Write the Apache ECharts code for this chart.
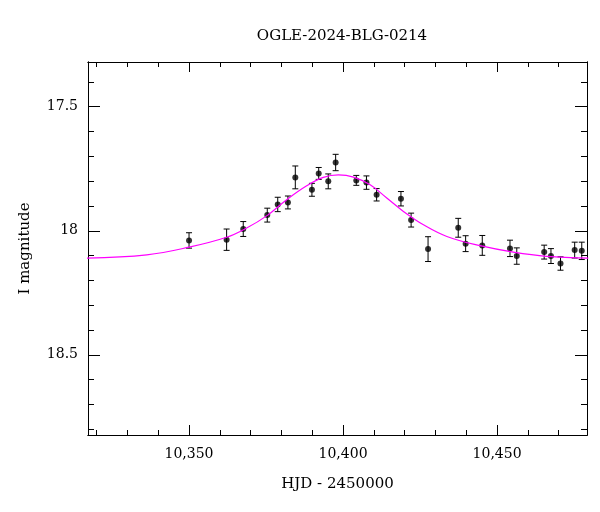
<!DOCTYPE html>
<html>
<head>
<meta charset="utf-8">
<script src="https://cdn.jsdelivr.net/npm/echarts@6/dist/echarts.min.js"></script>
<style>
   html, body { margin: 0; padding: 0; background: #fff; }
   #chart { width: 600px; height: 512px; }
</style>
</head>
<body>
<div id="chart"></div>
<script>

// observations: HJD-2450000, I mag, error
const obsT = [10350.0, 10362.2, 10367.6, 10375.4, 10378.8, 10382.1, 10384.5, 10389.9, 10392.1,
   10395.2, 10397.6, 10404.3, 10407.6, 10410.9, 10418.8, 10422.1, 10427.6, 10437.4, 10439.8,
   10445.2, 10454.2, 10456.4, 10465.3, 10467.5, 10470.6, 10475.2, 10477.5];
const obsMag = [18.039, 18.036, 17.993, 17.937, 17.894, 17.886, 17.785, 17.835, 17.769,
   17.801, 17.725, 17.797, 17.806, 17.855, 17.871, 17.957, 18.074, 17.988, 18.052,
   18.059, 18.071, 18.102, 18.086, 18.102, 18.132, 18.078, 18.081];
const obsErr = [0.031, 0.043, 0.030, 0.028, 0.029, 0.026, 0.046, 0.026, 0.024,
   0.030, 0.033, 0.020, 0.027, 0.025, 0.029, 0.028, 0.050, 0.038, 0.032,
   0.040, 0.033, 0.033, 0.028, 0.030, 0.027, 0.032, 0.035];

// model curve
const modelT = [10316.8, 10336.3, 10350.0, 10362.2, 10368.7, 10375.2, 10381.7, 10388.2, 10393.6,
   10398.5, 10403.4, 10408.8, 10414.2, 10419.6, 10426.1, 10433.7, 10444.5, 10455.3, 10466.1, 10479.6];
const modelMag = [18.110, 18.097, 18.066, 18.026, 17.989, 17.940, 17.875, 17.819, 17.785,
   17.775, 17.784, 17.815, 17.868, 17.922, 17.976, 18.023, 18.060, 18.086, 18.103, 18.110];

const xMinor = [10320, 10330, 10340, 10360, 10370, 10380, 10390, 10410, 10420, 10430, 10440, 10460, 10470];
const xMajor = [10350, 10400, 10450];
const yMinor = [17.4, 17.6, 17.7, 17.8, 17.9, 18.1, 18.2, 18.3, 18.4, 18.6, 18.7, 18.8];
const yMajor = [17.5, 18, 18.5];

const xRange = [10317.2, 10479.2];
const yRange = [17.32, 18.823];
const font = 'DejaVu Serif';

function makeX(pos, vals, len, labels)
{
   return {
      type: 'value', position: pos, min: xRange[0], max: xRange[1],
      axisLine: { show: true, onZero: false, lineStyle: { color: '#000', width: 1 } },
      axisTick: { show: true, inside: true, length: len, customValues: vals, lineStyle: { color: '#000' } },
      axisLabel: { show: labels, customValues: vals, color: '#000', fontFamily: font, fontSize: 14, margin: 12 },
      splitLine: { show: false },
      name: labels ? 'HJD - 2450000' : '', nameLocation: 'middle', nameGap: 42,
      nameTextStyle: { color: '#000', fontFamily: font, fontSize: 15 }
   };
}

function makeY(pos, vals, len, labels)
{
   return {
      type: 'value', position: pos, inverse: true, min: yRange[0], max: yRange[1],
      axisLine: { show: true, onZero: false, lineStyle: { color: '#000', width: 1 } },
      axisTick: { show: true, inside: true, length: len, customValues: vals, lineStyle: { color: '#000' } },
      axisLabel: { show: labels, customValues: vals, color: '#000', fontFamily: font, fontSize: 14, margin: 10,
         formatter: v => String(+v.toFixed(1)) },
      splitLine: { show: false },
      name: labels ? 'I magnitude' : '', nameLocation: 'middle', nameGap: 55, nameRotate: 90,
      nameTextStyle: { color: '#000', fontFamily: font, fontSize: 15 }
   };
}

const chart = echarts.init(document.getElementById('chart'));

chart.setOption({
   animation: false,
   title: {
      text: 'OGLE-2024-BLG-0214', left: 337, top: 24, textAlign: 'center',
      textStyle: { color: '#000', fontFamily: font, fontSize: 15, fontWeight: 'normal' }
   },
   grid: { left: 88, right: 13, top: 62, bottom: 77 },
   xAxis: [
      makeX('bottom', xMinor, 5, false),
      makeX('bottom', xMajor, 10, true),
      makeX('top', xMinor, 5, false),
      makeX('top', xMajor, 10, false)
   ],
   yAxis: [
      makeY('left', yMinor, 6, false),
      makeY('left', yMajor, 12, true),
      makeY('right', yMinor, 6, false),
      makeY('right', yMajor, 12, false)
   ],
   series: [
      {
         type: 'line', data: modelT.map((t, i) => [t, modelMag[i]]),
         smooth: 0.4, showSymbol: false, clip: true,
         lineStyle: { color: '#ff00ff', width: 1.2 }
      },
      {
         type: 'custom',
         data: obsT.map((t, i) => [t, obsMag[i], obsErr[i]]),
         renderItem: function (params, api)
         {
            const x = api.value(0), m = api.value(1), e = api.value(2);
            const top = api.coord([x, m - e]);
            const bot = api.coord([x, m + e]);
            const st = { stroke: '#000', lineWidth: 1 };
            return {
               type: 'group',
               children: [
                  { type: 'line', shape: { x1: top[0], y1: top[1], x2: bot[0], y2: bot[1] }, style: st },
                  { type: 'line', shape: { x1: top[0] - 3, y1: top[1], x2: top[0] + 3, y2: top[1] }, style: st },
                  { type: 'line', shape: { x1: bot[0] - 3, y1: bot[1], x2: bot[0] + 3, y2: bot[1] }, style: st }
               ]
            };
         }
      },
      {
         type: 'scatter', data: obsT.map((t, i) => [t, obsMag[i]]),
         symbol: 'circle', symbolSize: 6, itemStyle: { color: '#000' }
      }
   ]
});
</script>
</body>
</html>
